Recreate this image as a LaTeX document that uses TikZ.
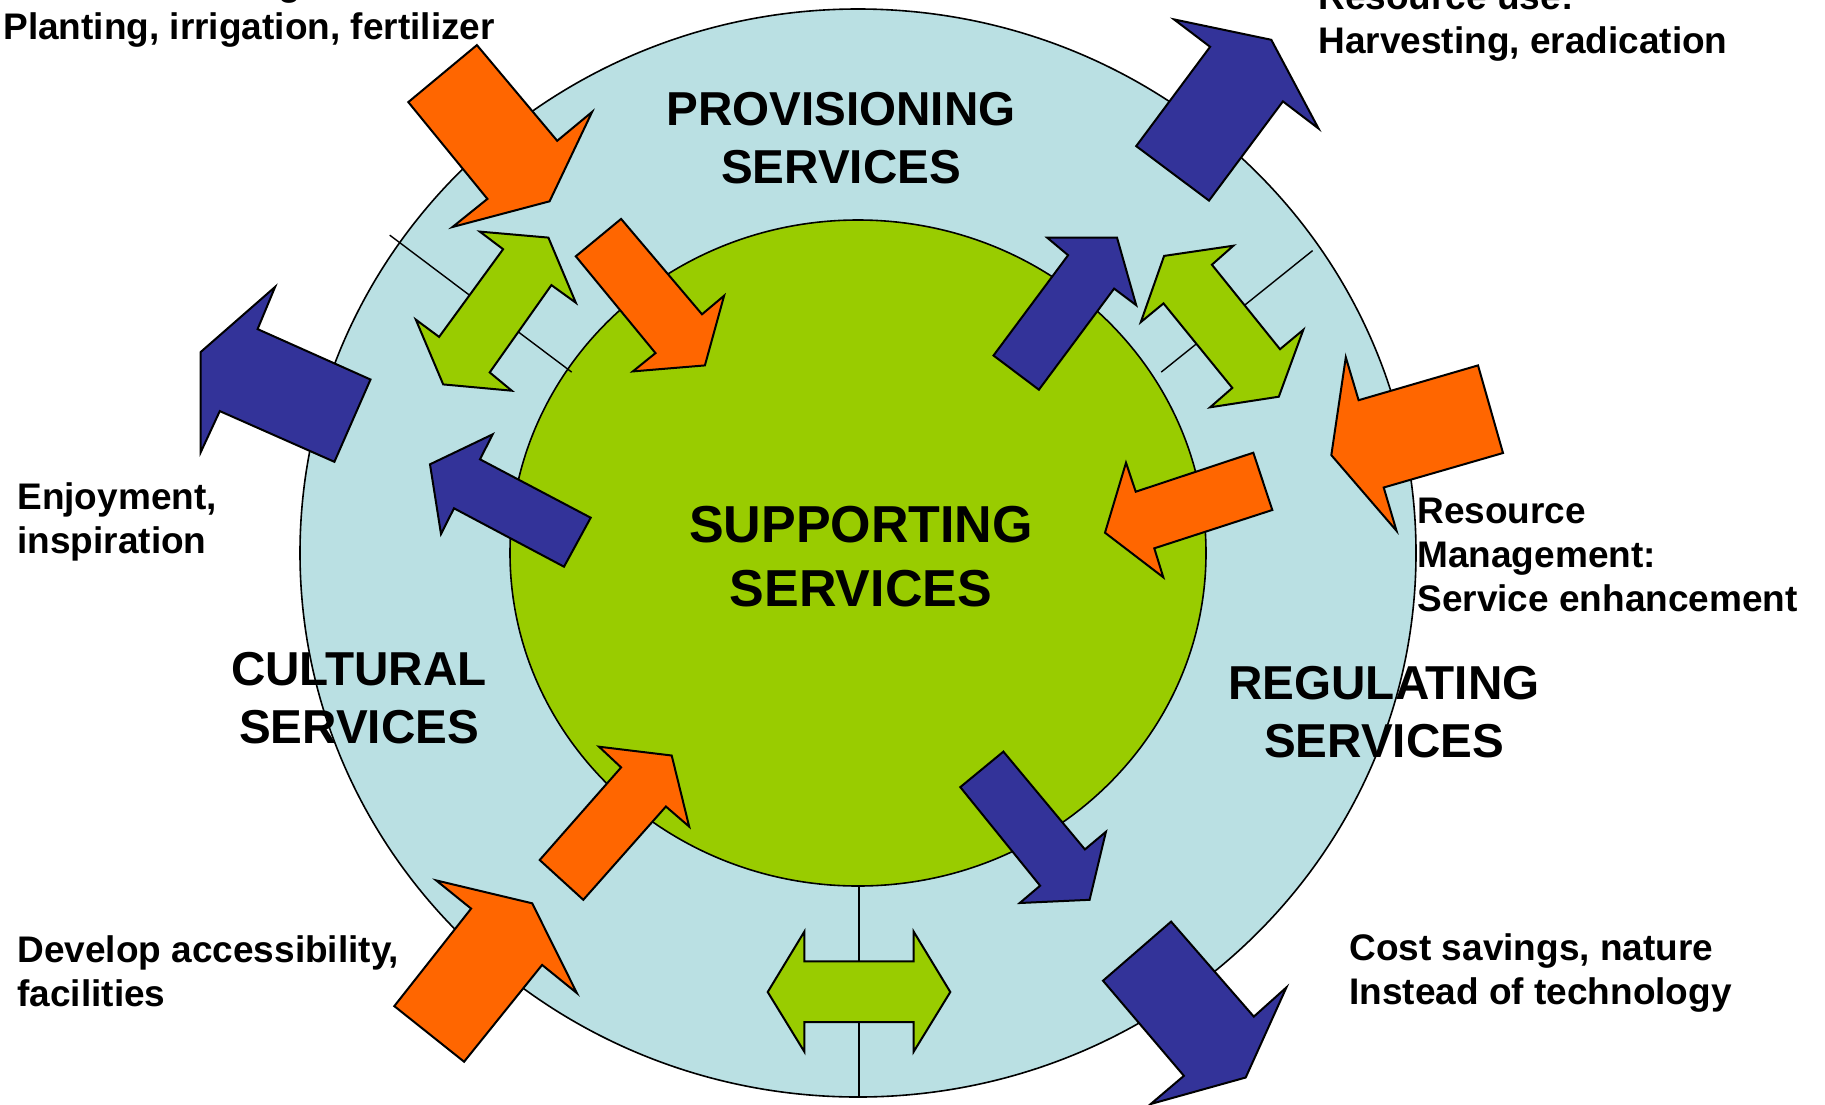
\documentclass[tikz,border=0pt]{standalone}
\usepackage{fontspec}
\setmainfont{Liberation Sans}
\definecolor{anneau}{RGB}{186,224,227}
\definecolor{vertpomme}{RGB}{153,204,0}
\definecolor{orangevif}{RGB}{255,102,0}
\definecolor{bleunuit}{RGB}{51,51,153}

\begin{document}
\begin{tikzpicture}[x=0.5pt,y=-0.5pt]
  \tikzstyle{trait}=[line width=0.7pt]
\tikzset{fleche/.style={draw,line width=1pt,fill=#1},
fleche/.default={vertpomme},
titre/.style={font=\bfseries\fontsize{23.8}{28.75}\selectfont,align=center,anchor=base,inner sep=0pt},
legende/.style={font=\bfseries\fontsize{18.5}{22}\selectfont,align=left,anchor=base west,inner sep=0pt}}
\useasboundingbox (0,0) rectangle (1825,1104);
\clip (0,0) rectangle (1825,1104);

\draw[line width=0.8pt,fill=anneau] (858,553) ellipse [x radius=558,y radius=544];
\draw[line width=0.8pt,fill=vertpomme] (858,553) ellipse [x radius=348,y radius=333];
\draw[trait] (389.7,235.1) -- (571.7,372.1);
\draw[trait] (1312.6,250.6) -- (1161.2,372.1);
\draw[trait] (859,885) -- (859,1097);

\draw[fleche=orangevif] (408.3,102.1) -- (476.9,45.1) -- (557.2,140.8) -- (592.1,111.9) -- (549.6,201.3) -- (452.5,227.0) -- (487.4,198.9) -- cycle;
\draw[fleche=orangevif] (575.8,256.3) -- (621.1,218.9) -- (702.0,314.3) -- (724.1,295.7) -- (704.9,365.4) -- (632.8,371.4) -- (655.5,353.1) -- cycle;
\draw[fleche] (479.8,231.6) -- (548.4,237.6) -- (575.8,302.7) -- (551.4,285.1) -- (489.7,372.4) -- (511.8,390.7) -- (443.2,384.4) -- (415.8,319.6) -- (439.1,336.9) -- (503.1,249.2) -- cycle;
\draw[fleche=bleunuit] (257.6,329.1) -- (370.5,379.5) -- (334.4,461.8) -- (219.8,411.1) -- (200.7,452.3) -- (200.7,352.0) -- (275.1,286.9) -- cycle;
\draw[fleche=bleunuit] (430,464.3) -- (492.7,434.3) -- (480,459.3) -- (590.7,517.7) -- (564,566.7) -- (454,508.3) -- (441,534) -- cycle;

\draw[fleche=bleunuit] (1136.2,146.1) -- (1209.0,200.6) -- (1282.9,101.4) -- (1318.5,128.5) -- (1271.3,39.8) -- (1174.0,19.4) -- (1210.1,46.8) -- cycle;
\draw[fleche=bleunuit] (993.5,355.5) -- (1038.9,389.7) -- (1114.1,288.6) -- (1136.2,305.2) -- (1117.0,237.6) -- (1047.1,237.6) -- (1068.1,255.2) -- cycle;
\draw[fleche] (1164.1,255.9) -- (1233.4,245.7) -- (1211.9,264.7) -- (1280.0,349.2) -- (1303.3,329.8) -- (1278.8,396.7) -- (1210.1,407.3) -- (1232.3,387.9) -- (1163.5,303.4) -- (1140.8,322.1) -- cycle;
\draw[fleche=orangevif] (1478.0,365.4) -- (1503.0,453.0) -- (1383.7,487.5) -- (1396.5,530.8) -- (1331.3,455.1) -- (1345.8,357.3) -- (1358.6,400.2) -- cycle;
\draw[fleche=orangevif] (1105,532.7) -- (1126,462.7) -- (1135.7,491.7) -- (1253.3,452.7) -- (1272.3,510) -- (1154.3,548.3) -- (1163.3,577.3) -- cycle;

\draw[fleche=orangevif] (539.7,860.0) -- (621.1,767.4) -- (599.0,746.7) -- (671.7,755.5) -- (689.2,826.6) -- (665.9,806.5) -- (583.3,899.8) -- cycle;
\draw[fleche=orangevif] (394.3,1006.1) -- (471.1,908.6) -- (436.2,880.4) -- (532.2,903.3) -- (576.9,993.1) -- (542.1,964.9) -- (464.1,1061.7) -- cycle;
\draw[fleche] (767.7,992) -- (804.4,931.5) -- (804.4,961.4) -- (913.6,961.4) -- (913.6,931.5) -- (950.3,992) -- (913.6,1051.8) -- (913.6,1022) -- (804.4,1022) -- (804.4,1051.8) -- cycle;
\draw[fleche=bleunuit] (960.3,787.1) -- (1003.4,751.6) -- (1084.9,849.4) -- (1105.9,831.8) -- (1089.6,899.8) -- (1019.7,903.0) -- (1040.1,885.7) -- cycle;
\draw[fleche=bleunuit] (1103.0,980.7) -- (1171.1,921.6) -- (1253.8,1016.6) -- (1286.4,987.4) -- (1245.7,1077.5) -- (1150.7,1104) -- (1183.9,1075.8) -- cycle;

\node[titre] (P) at (841,183){PROVISIONING\\SERVICES};
\node[titre] (C) at (359,743){CULTURAL\\SERVICES};
\node[titre] (R) at (1384,757){REGULATING\\SERVICES};
\node[titre,font=\bfseries\fontsize{26}{32}\selectfont] (S) at (861,606){SUPPORTING\\SERVICES};

\node[legende] (a) at (3,39.5){Resource management:\\Planting, irrigation, fertilizer};
\node[legende] (b) at (1318,53){Resource use:\\Harvesting, eradication};
\node[legende] (c) at (17,553){Enjoyment,\\inspiration};
\node[legende] (d) at (1417,611){Resource\\Management:\\Service enhancement};
\node[legende] (e) at (17,1006){Develop accessibility,\\facilities};
\node[legende] (f) at (1349,1004){Cost savings, nature\\Instead of technology};
\end{tikzpicture}
\end{document}
